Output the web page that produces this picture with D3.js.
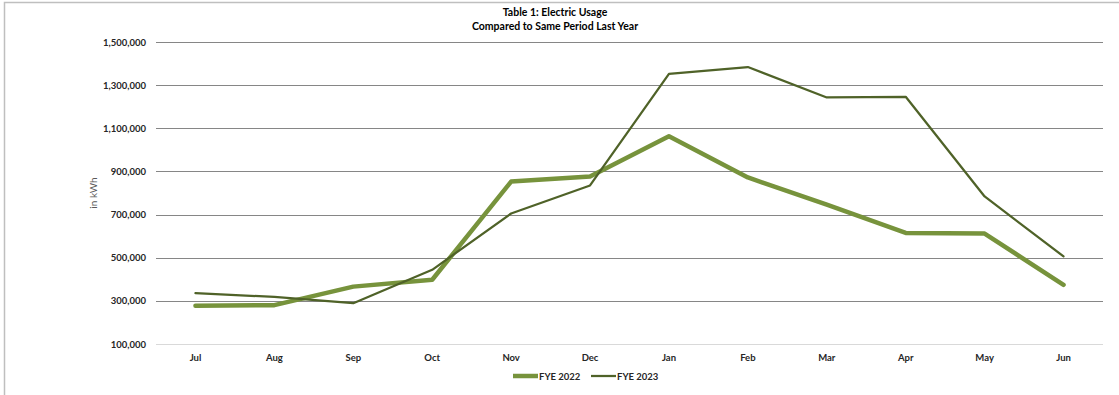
<!DOCTYPE html>
<html>
<head>
<meta charset="utf-8">
<script src="https://cdn.jsdelivr.net/npm/d3@7"></script>
<style>
  body { margin: 0; background: #fff; }
  svg text { font-family: Lato, "Liberation Sans", sans-serif; }
</style>
</head>
<body>
<div id="chart"></div>
<script>
// months of the fiscal year
var months = ["Jul", "Aug", "Sep", "Oct", "Nov", "Dec", "Jan", "Feb", "Mar", "Apr", "May", "Jun"];

// kWh
var fye2022 = [277000, 280000, 366000, 398000, 853000, 877000, 1063000, 872000, 746000, 615000, 612000, 374000];
var fye2023 = [336000, 318000, 289000, 444000, 705000, 835000, 1352000, 1384000, 1243000, 1246000, 784000, 506000];

var yTicks = [100000, 300000, 500000, 700000, 900000, 1100000, 1300000, 1500000];

var seriesNames = ["FYE 2022", "FYE 2023"];
var seriesColors = ["#77933C", "#4F6228"];
var seriesWidths = [4.5, 2.25];

var width = 1119, height = 395;
var margin = {top: 42, right: 16, bottom: 51, left: 156};

var svg = d3.select("#chart").append("svg")
    .attr("width", width)
    .attr("height", height);

// outer frame (right/bottom run off the page like the original)
svg.append("rect")
    .attr("x", 4.5).attr("y", 2.5)
    .attr("width", width + 10).attr("height", height + 10)
    .attr("fill", "none")
    .attr("stroke", "#bfbfbf")
    .attr("stroke-width", 1.5);

var x = d3.scaleBand()
    .domain(months)
    .range([margin.left, width - margin.right]);

var y = d3.scaleLinear()
    .domain([100000, 1500000])
    .range([height - margin.bottom, margin.top]);

// gridlines
svg.append("g").selectAll("line")
    .data(yTicks)
    .enter().append("line")
    .attr("x1", margin.left)
    .attr("x2", width - margin.right)
    .attr("y1", function(d) { return Math.round(y(d)) + 0.5; })
    .attr("y2", function(d) { return Math.round(y(d)) + 0.5; })
    .attr("stroke", function(d) { return d === 100000 ? "#d9d9d9" : "#868686"; })
    .attr("stroke-width", 1.2);

// y axis
var yAxis = svg.append("g")
    .attr("transform", "translate(" + margin.left + ",0)")
    .call(d3.axisLeft(y).tickValues(yTicks).tickSize(0).tickPadding(10)
        .tickFormat(d3.format(",")));
yAxis.select(".domain").remove();
yAxis.selectAll("text")
    .style("font-family", "Lato, 'Liberation Sans', sans-serif")
    .style("font-size", "9.5px")
    .style("font-weight", "bold")
    .attr("fill", "#262626");

// x axis
var xAxis = svg.append("g")
    .attr("transform", "translate(0," + (height - margin.bottom) + ")")
    .call(d3.axisBottom(x).tickSize(0).tickPadding(10));
xAxis.select(".domain").remove();
xAxis.selectAll("text")
    .style("font-family", "Lato, 'Liberation Sans', sans-serif")
    .style("font-size", "9.5px")
    .style("font-weight", "bold")
    .attr("fill", "#262626");

// y label
svg.append("text")
    .attr("transform", "translate(97,193) rotate(-90)")
    .attr("text-anchor", "middle")
    .style("font-size", "10px")
    .attr("fill", "#595959")
    .text("in kWh");

// title
var title = svg.append("text")
    .attr("text-anchor", "middle")
    .style("font-size", "10.5px")
    .style("font-weight", "bold")
    .attr("fill", "#000");
title.append("tspan").attr("x", 555).attr("y", 16).text("Table 1: Electric Usage");
title.append("tspan").attr("x", 555).attr("y", 30).text("Compared to Same Period Last Year");

// lines
var line = d3.line()
    .x(function(d, i) { return x(months[i]) + x.bandwidth() / 2; })
    .y(function(d) { return y(d); });

[fye2022, fye2023].forEach(function(vals, k) {
    svg.append("path")
        .datum(vals)
        .attr("fill", "none")
        .attr("stroke", seriesColors[k])
        .attr("stroke-width", seriesWidths[k])
        .attr("stroke-linejoin", "round")
        .attr("stroke-linecap", "round")
        .attr("d", line);
});

// legend
var legendX = [513, 591];
seriesNames.forEach(function(name, k) {
    var g = svg.append("g").attr("transform", "translate(" + legendX[k] + ",376)");
    g.append("line")
        .attr("x1", 0).attr("x2", 25)
        .attr("y1", 0).attr("y2", 0)
        .attr("stroke", seriesColors[k])
        .attr("stroke-width", seriesWidths[k]);
    g.append("text")
        .attr("x", 26).attr("y", 3.5)
        .style("font-size", "9.5px")
        .style("font-weight", "bold")
        .attr("fill", "#262626")
        .text(name);
});
</script>
</body>
</html>
